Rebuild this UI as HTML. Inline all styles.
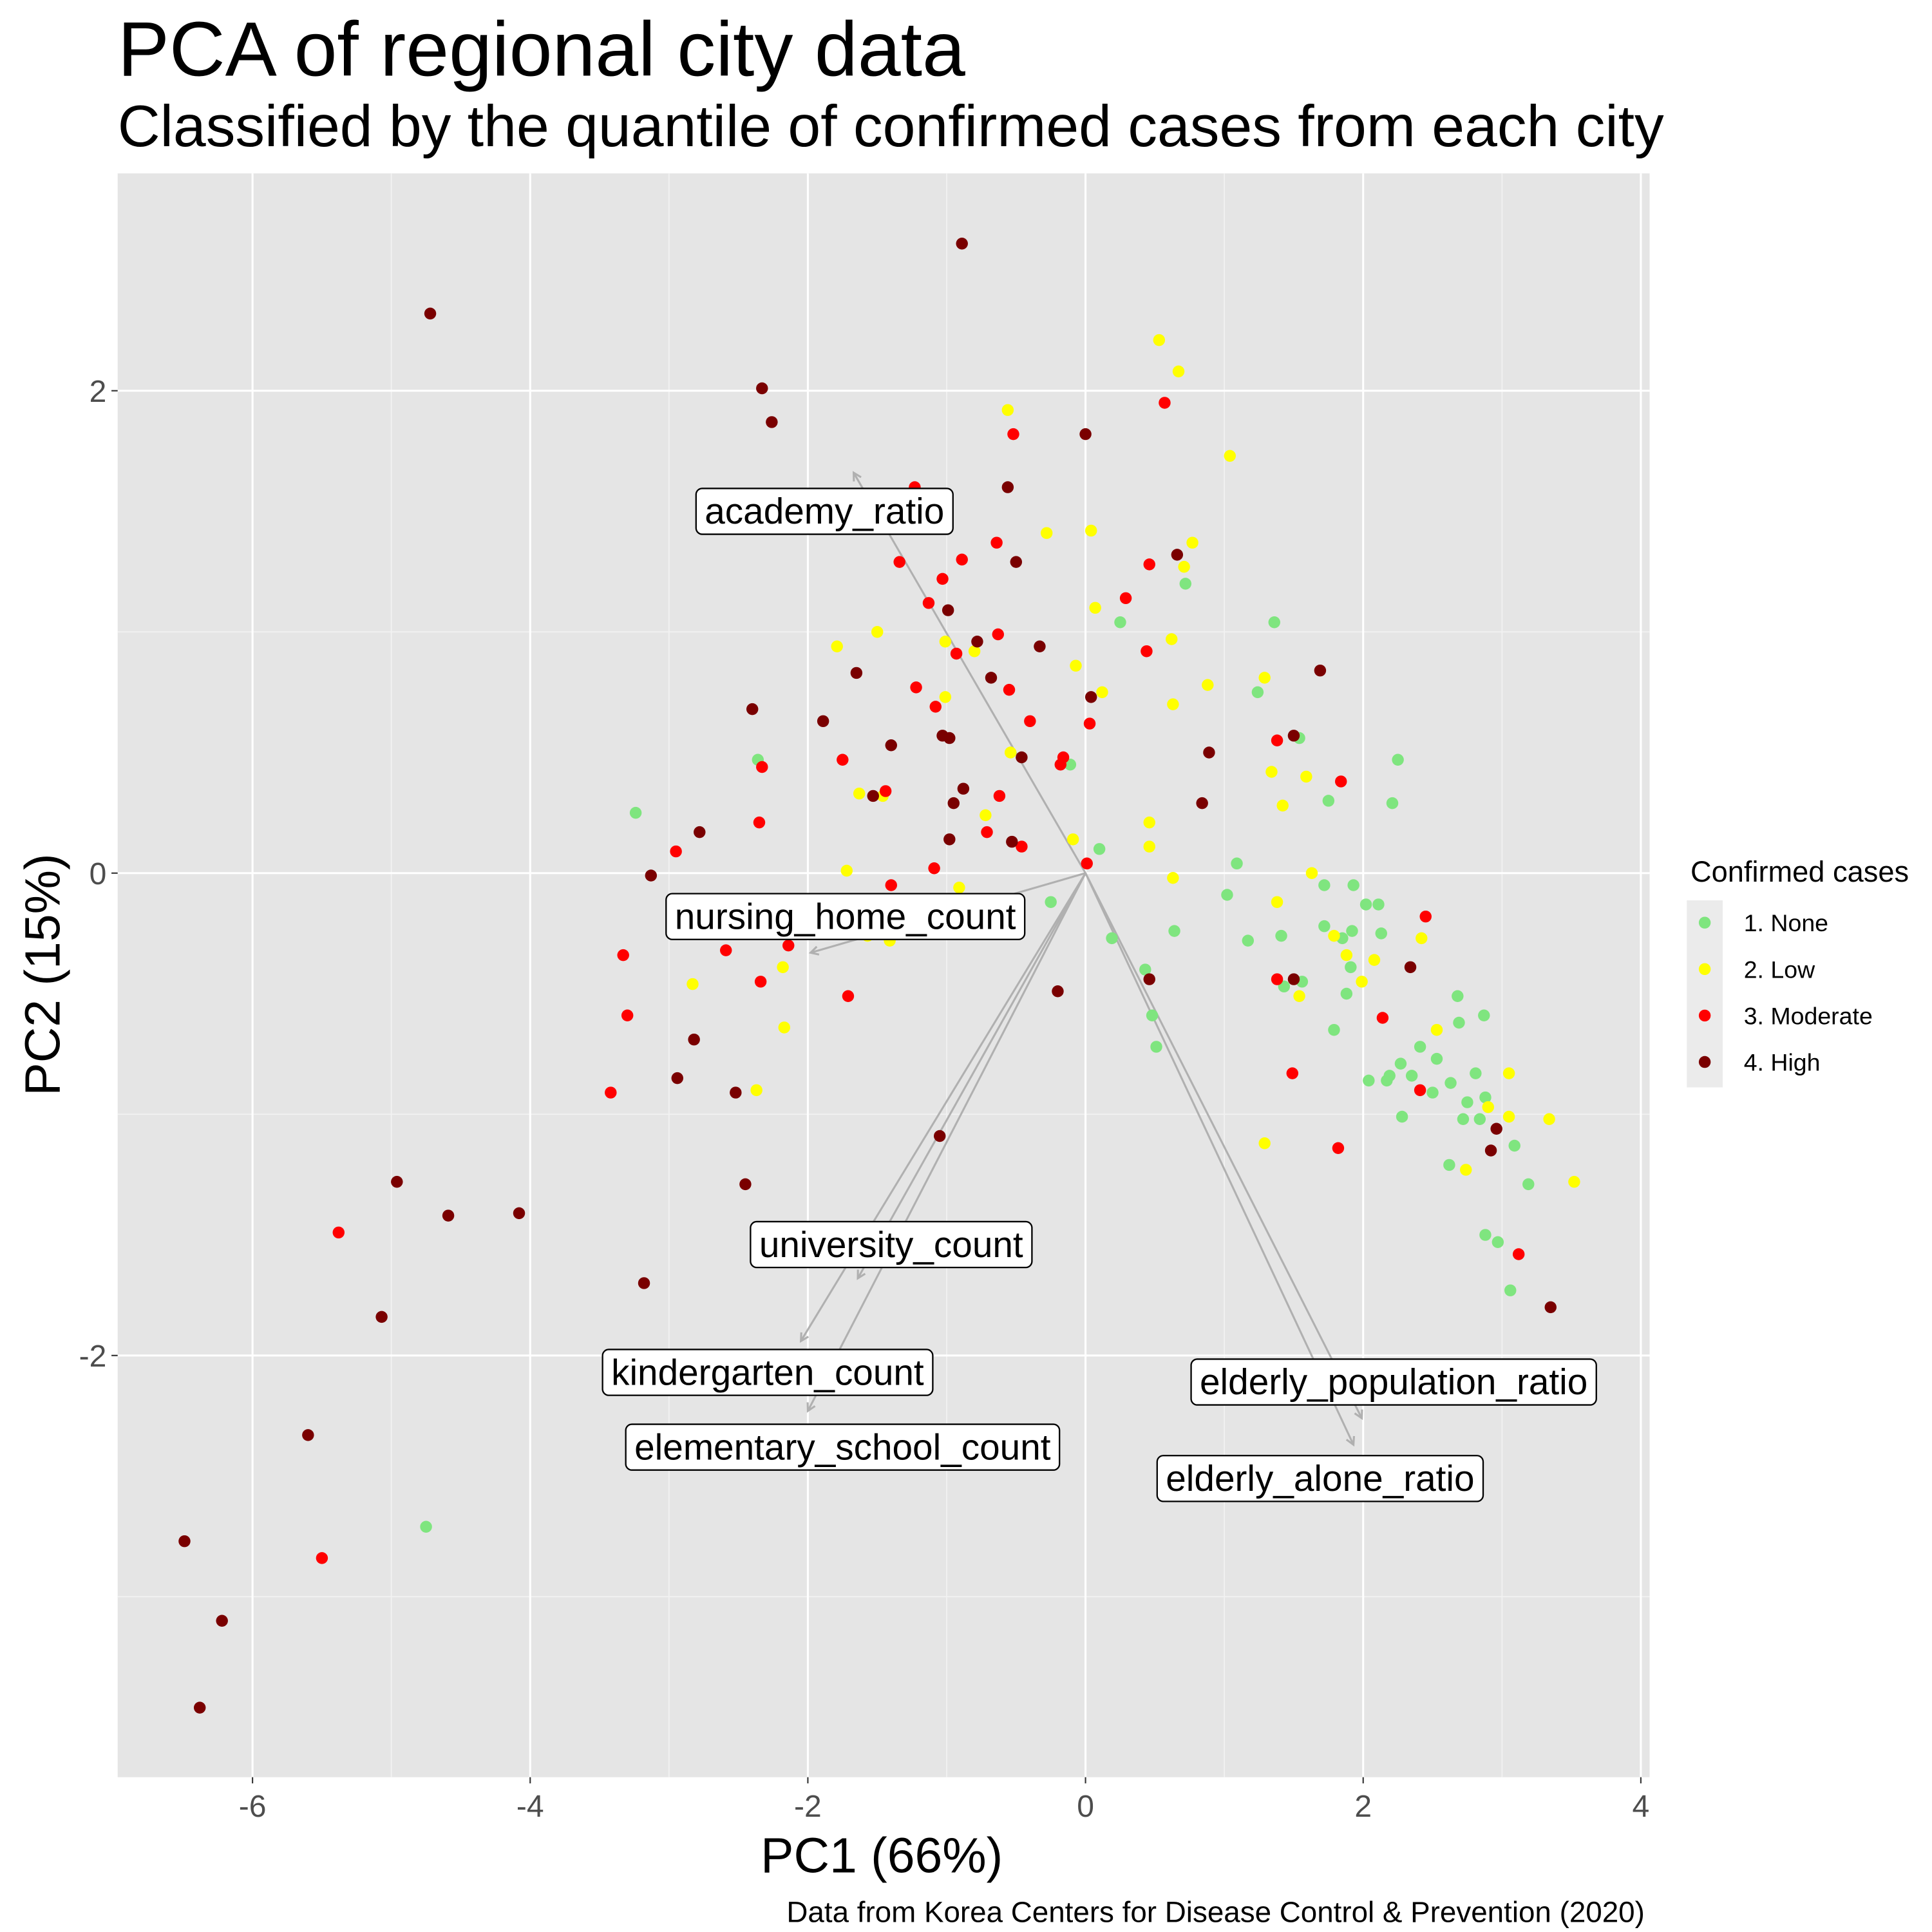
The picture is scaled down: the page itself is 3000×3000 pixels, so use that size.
<!DOCTYPE html>
<html><head><meta charset="utf-8"><style>
html,body{margin:0;padding:0;background:#fff;}
svg{display:block;font-family:"Liberation Sans",Arial,sans-serif;}
</style></head><body>
<svg id="chart" width="3000" height="3000" viewBox="0 0 1560 1560" xmlns="http://www.w3.org/2000/svg">
<rect width="1560" height="1560" fill="#fff"/>
<text x="95" y="61" font-size="62.5" fill="#000">PCA of regional city data</text>
<text x="95" y="118" font-size="47.5" fill="#000">Classified by the quantile of confirmed cases from each city</text>
<rect x="95" y="140" width="1237" height="1295" fill="#e5e5e5"/>
<g id="grid"></g>
<g id="arrows"></g>
<g id="points"></g>
<g id="labels"></g>
<g id="axes"></g>
<text x="712" y="1512" font-size="40" text-anchor="middle" fill="#000">PC1 (66%)</text>
<text transform="translate(48,787) rotate(-90)" font-size="40" text-anchor="middle" fill="#000">PC2 (15%)</text>
<text x="1328" y="1552" font-size="23.8" text-anchor="end" fill="#000">Data from Korea Centers for Disease Control &amp; Prevention (2020)</text>
<g>
<text x="1365" y="712" font-size="23.5" fill="#000">Confirmed cases</text>
<rect x="1362" y="727" width="29" height="151" fill="#ebebeb"/>
<g id="legend"></g>
</g>
</svg>
<script>
const NS="http://www.w3.org/2000/svg";
const greenX=[-3.24,-2.36,-0.25,-0.11,0.10,0.19,0.25,0.43,0.48,0.51,0.64,0.72,1.09,1.02,1.17,1.24,1.36,1.41,1.43,1.54,1.56,1.72,1.75,1.72,1.79,1.85,1.88,1.91,1.93,1.92,2.02,2.04,2.11,2.13,2.17,2.19,2.25,2.21,2.27,2.28,2.35,2.41,2.50,2.53,2.62,2.63,2.68,2.69,2.72,2.75,2.81,2.84,2.87,2.88,2.88,2.97,3.06,3.09,3.19,-4.75];
const greenY=[0.25,0.47,-0.12,0.45,0.10,-0.27,1.04,-0.40,-0.59,-0.72,-0.24,1.20,0.04,-0.09,-0.28,0.75,1.04,-0.26,-0.47,0.56,-0.45,-0.05,0.30,-0.22,-0.65,-0.27,-0.50,-0.39,-0.05,-0.24,-0.13,-0.86,-0.13,-0.25,-0.86,-0.84,0.47,0.29,-0.79,-1.01,-0.84,-0.72,-0.91,-0.77,-1.21,-0.87,-0.51,-0.62,-1.02,-0.95,-0.83,-1.02,-0.59,-0.93,-1.50,-1.53,-1.73,-1.13,-1.29,-2.71];
const lowX=[0.53,0.67,1.04,-0.56,-0.28,0.04,0.77,0.71,0.07,0.62,-0.07,0.12,0.63,0.88,1.29,1.34,1.42,1.59,1.38,0.46,0.46,0.63,-0.09,-0.54,-0.72,-0.80,-1.01,-1.01,-1.79,-1.50,-1.63,-1.46,-1.72,-0.91,-1.57,-1.41,-2.18,-2.17,-2.83,-2.37,1.63,1.79,1.88,1.99,2.08,2.42,2.53,1.54,1.29,2.74,3.05,3.05,2.90,3.34,3.52];
const lowY=[2.21,2.08,1.73,1.92,1.41,1.42,1.37,1.27,1.10,0.97,0.86,0.75,0.70,0.78,0.81,0.42,0.28,0.40,-0.12,0.21,0.11,-0.02,0.14,0.50,0.24,0.92,0.96,0.73,0.94,1.00,0.33,0.32,0.01,-0.06,-0.26,-0.28,-0.39,-0.64,-0.46,-0.90,0.00,-0.26,-0.34,-0.45,-0.36,-0.27,-0.65,-0.51,-1.12,-1.23,-0.83,-1.01,-0.97,-1.02,-1.28];
const modX=[0.57,-0.52,-0.64,-1.23,-0.89,-1.34,-1.03,-1.13,-0.63,-0.55,-0.40,-0.93,-1.22,-1.08,-1.75,-2.33,-2.35,-2.95,-1.09,-1.40,-0.71,-0.46,-0.62,-0.16,0.03,-0.18,0.01,0.29,0.46,0.44,-1.44,-1.71,-2.14,-2.59,-2.34,-3.33,-3.30,-3.42,-5.38,-5.50,1.38,1.84,1.38,1.49,2.14,2.45,2.41,1.82,3.12];
const modY=[1.95,1.82,1.37,1.60,1.30,1.29,1.22,1.12,0.99,0.76,0.63,0.91,0.77,0.69,0.47,0.44,0.21,0.09,0.02,-0.05,0.17,0.11,0.32,0.48,0.62,0.45,0.04,1.14,1.28,0.92,0.34,-0.51,-0.30,-0.32,-0.45,-0.34,-0.59,-0.91,-1.49,-2.84,0.55,0.38,-0.44,-0.83,-0.60,-0.18,-0.90,-1.14,-1.58];
const highX=[-0.89,-4.72,-2.33,-2.26,0.00,-0.56,-0.50,-0.99,-0.78,-0.33,-0.68,0.04,-1.65,-2.40,-1.89,-1.40,-1.03,-0.98,-0.46,0.89,1.50,1.69,-0.88,-0.95,-1.53,-0.98,-0.53,-3.13,-2.78,0.66,0.84,0.46,1.50,2.34,-0.20,-2.82,-2.94,-2.52,-1.05,-2.45,-3.18,-4.96,-4.59,-4.08,-5.07,-5.60,-6.49,-6.22,-6.38,2.96,2.92,3.35];
const highY=[2.61,2.32,2.01,1.87,1.82,1.60,1.29,1.09,0.96,0.94,0.81,0.73,0.83,0.68,0.63,0.53,0.57,0.56,0.48,0.50,0.57,0.84,0.35,0.29,0.32,0.14,0.13,-0.01,0.17,1.32,0.29,-0.44,-0.44,-0.39,-0.49,-0.69,-0.85,-0.91,-1.09,-1.29,-1.70,-1.28,-1.42,-1.41,-1.84,-2.33,-2.77,-3.10,-3.46,-1.06,-1.15,-1.80];
const loadNames=["academy_ratio","nursing_home_count","university_count","kindergarten_count","elementary_school_count","elderly_population_ratio","elderly_alone_ratio"];
const loadX=[-1.67,-1.98,-1.64,-2.05,-2.00,1.99,1.93];
const loadY=[1.66,-0.33,-1.68,-1.94,-2.23,-2.26,-2.37];
const labelX=[-1.88,-1.73,-1.40,-2.29,-1.75,2.22,1.69];
const labelY=[1.50,-0.18,-1.54,-2.07,-2.38,-2.11,-2.51];
const xTicks=[-6,-4,-2,0,2,4];
const yTicks=[-2,0,2];
const xMinor=[-7,-5,-3,-1,1,3];
const yMinor=[-3,-1,1];
const legendLabels=["1. None","2. Low","3. Moderate","4. High"];
const colors=["#7fe57f","#ffff00","#ff0000","#7a0000"];

const PL=95,PR=1332,PT=140,PB=1435;
function sx(v){return 876.5+v*112.1;}
function sy(v){return 705-v*194.75;}
function mk(tag,attrs,parent){const e=document.createElementNS(NS,tag);for(const k in attrs)e.setAttribute(k,attrs[k]);parent.appendChild(e);return e;}

const grid=document.getElementById('grid');
xMinor.forEach(v=>{const x=sx(v);if(x<PL||x>PR)return;
 const l=mk('line',{x1:x,x2:x,y1:PT,y2:PB,stroke:'#f2f2f2','stroke-width':0.9},grid);
 
 });
yMinor.forEach(v=>{const y=sy(v);
 const l=mk('line',{x1:PL,x2:PR,y1:y,y2:y,stroke:'#f2f2f2','stroke-width':0.9},grid);
 
 });
xTicks.forEach(v=>{const x=sx(v);
 const l=mk('line',{x1:x,x2:x,y1:PT,y2:PB,stroke:'#fff','stroke-width':1.6},grid);
 
 });
yTicks.forEach(v=>{const y=sy(v);
 const l=mk('line',{x1:PL,x2:PR,y1:y,y2:y,stroke:'#fff','stroke-width':1.6},grid);
 
 });

const axes=document.getElementById('axes');
xTicks.forEach(v=>{const x=sx(v);
 const t=mk('line',{x1:x,x2:x,y1:PB,y2:PB+5,stroke:'#333','stroke-width':1.1},axes);
 
 
 const tx=mk('text',{x:x,y:PB+32,'font-size':25,'text-anchor':'middle',fill:'#4d4d4d'},axes);
 tx.textContent=String(v);
 
 });
yTicks.forEach(v=>{const y=sy(v);
 const t=mk('line',{x1:PL-5,x2:PL,y1:y,y2:y,stroke:'#333','stroke-width':1.1},axes);
 
 
 const tx=mk('text',{x:PL-9,y:y+9,'font-size':25,'text-anchor':'end',fill:'#4d4d4d'},axes);
 tx.textContent=String(v);
 
 });

const arrows=document.getElementById('arrows');
loadNames.forEach((n,i)=>{
 const x0=sx(0),y0=sy(0),x1=sx(loadX[i]),y1=sy(loadY[i]);
 const g=mk('g',{},arrows);
 
 
 mk('line',{x1:x0,y1:y0,x2:x1,y2:y1,stroke:'#b0b0b0','stroke-width':1.6},g);
 const a=Math.atan2(y1-y0,x1-x0),L=7,s=0.5;
 const p=[[x1-L*Math.cos(a-s),y1-L*Math.sin(a-s)],[x1,y1],[x1-L*Math.cos(a+s),y1-L*Math.sin(a+s)]];
 mk('polyline',{points:p.map(q=>q.join(',')).join(' '),fill:'none',stroke:'#b0b0b0','stroke-width':1.6},g);
});

const pts=document.getElementById('points');
const series=[[greenX,greenY],[lowX,lowY],[modX,modY],[highX,highY]];
const snames=['none','low','moderate','high'];
series.forEach((s,k)=>{s[0].forEach((xv,i)=>{
 const c=mk('circle',{cx:sx(xv),cy:sy(s[1][i]),r:4.8,fill:colors[k]},pts);
 
 
});});

const labs=document.getElementById('labels');
loadNames.forEach((n,i)=>{
 const cx=sx(labelX[i]),cy=sy(labelY[i]);
 const g=mk('g',{},labs);
 
 
 const r=mk('rect',{fill:'#fff',stroke:'#000','stroke-width':1.2,rx:5,ry:5},g);
 const t=mk('text',{x:cx,y:cy+10,'font-size':29.5,'text-anchor':'middle',fill:'#000'},g);
 t.textContent=n;
 const b=t.getBBox();
 r.setAttribute('x',b.x-7);r.setAttribute('y',cy-18.5);
 r.setAttribute('width',b.width+14);r.setAttribute('height',37);
});

const leg=document.getElementById('legend');
legendLabels.forEach((l,i)=>{
 const y=745+i*37.5;
 const c=mk('circle',{cx:1376.5,cy:y,r:4.8,fill:colors[i]},leg);
 
 
 const t=mk('text',{x:1408,y:y+7,'font-size':19.5,fill:'#000'},leg);
 t.textContent=l;
 
 
});
</script>
</body></html>
